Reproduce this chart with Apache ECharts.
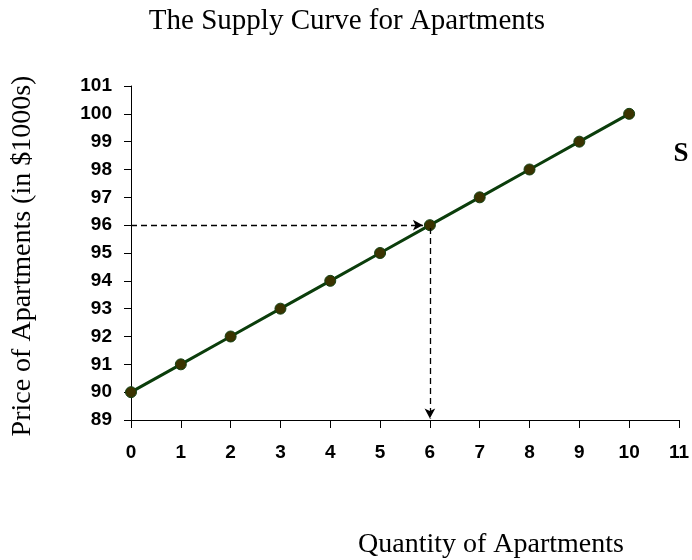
<!DOCTYPE html>
<html>
<head>
<meta charset="utf-8">
<script src="https://cdn.jsdelivr.net/npm/echarts@6/dist/echarts.min.js"></script>
<style>
	html, body { margin: 0; padding: 0; background: #fff; }
	#chart { width: 692px; height: 560px; }
</style>
</head>
<body>
<div id="chart"></div>
<script>
const quantities = [0, 1, 2, 3, 4, 5, 6, 7, 8, 9, 10];
const prices = [90, 91, 92, 93, 94, 95, 96, 97, 98, 99, 100];
const markedQuantity = 6;
const markedPrice = 96;
const curveName = "S";

const serif = "'Times New Roman', 'Liberation Serif', 'DejaVu Serif', serif";
const sans = "Arial, 'Liberation Sans', sans-serif";

const chart = echarts.init(document.getElementById("chart"), null, { renderer: "canvas" });

const dashStyle = { color: "#000", width: 1.3, type: [6, 4] };

chart.setOption({
	animation: false,
	grid: { left: 131, right: 11, top: 86, bottom: 140, containLabel: false },
	xAxis: {
		type: "value",
		min: 0,
		max: 11,
		interval: 1,
		splitLine: { show: false },
		axisLine: { lineStyle: { color: "#000", width: 1 } },
		axisTick: { inside: false, length: 8, lineStyle: { color: "#000" } },
		axisLabel: { fontFamily: sans, fontSize: 19, fontWeight: "bold", color: "#000", margin: 23 },
	},
	yAxis: {
		type: "value",
		min: 89,
		max: 101,
		interval: 1,
		splitLine: { show: false },
		axisLine: { show: true, lineStyle: { color: "#000", width: 1 } },
		axisTick: { show: true, length: 7, lineStyle: { color: "#000" } },
		axisLabel: { fontFamily: sans, fontSize: 19, fontWeight: "bold", color: "#000", margin: 19 },
	},
	graphic: [
		{
			type: "text",
			x: 347,
			y: 21,
			style: {
				text: "The Supply Curve for Apartments",
				font: "29px " + serif,
				fill: "#000",
				align: "center",
				verticalAlign: "middle",
			},
		},
		{
			type: "text",
			x: 23,
			y: 256,
			rotation: Math.PI / 2,
			style: {
				text: "Price of Apartments (in $1000s)",
				font: "28px " + serif,
				fill: "#000",
				align: "center",
				verticalAlign: "middle",
			},
		},
		{
			type: "text",
			x: 491,
			y: 545,
			style: {
				text: "Quantity of Apartments",
				font: "28px " + serif,
				fill: "#000",
				align: "center",
				verticalAlign: "middle",
			},
		},
	],
	series: [
		{
			name: curveName,
			type: "line",
			data: quantities.map((q, i) => [q, prices[i]]),
			symbol: "circle",
			symbolSize: 11,
			lineStyle: { color: "#0b3d0b", width: 3 },
			itemStyle: { color: "#3a3300", borderColor: "#124012", borderWidth: 1 },
			z: 3,
			markLine: {
				silent: true,
				symbol: ["none", "arrow"],
				symbolSize: [8, 10],
				label: { show: false },
				lineStyle: dashStyle,
				data: [
					[{ coord: [0, markedPrice] }, { coord: [markedQuantity - 0.14, markedPrice] }],
					[{ coord: [markedQuantity, markedPrice - 0.1] }, { coord: [markedQuantity, 89.05] }],
				],
			},
			markPoint: {
				silent: true,
				symbol: "circle",
				symbolSize: 1,
				itemStyle: { color: "transparent" },
				label: {
					show: true,
					position: "inside",
					offset: [2, 0],
					formatter: curveName,
					fontFamily: serif,
					fontSize: 27,
					fontWeight: "bold",
					color: "#000",
				},
				data: [{ coord: [11, 98.56] }],
			},
		},
	],
});
</script>
</body>
</html>
